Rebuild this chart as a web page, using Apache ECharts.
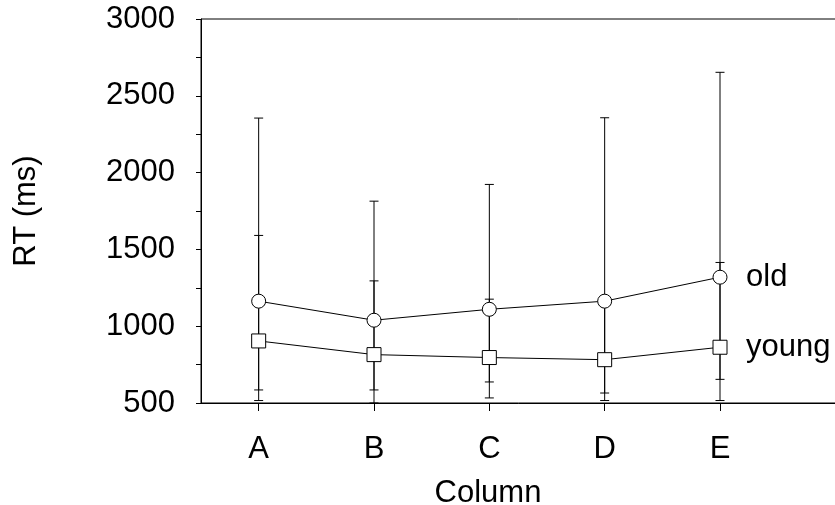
<!DOCTYPE html>
<html>
<head>
<meta charset="utf-8">
<script src="https://cdn.jsdelivr.net/npm/echarts@6/dist/echarts.min.js"></script>
<style>
html,body{margin:0;padding:0;background:#fff;}
#chart{width:835px;height:505px;}
</style>
</head>
<body>
<div id="chart"></div>
<script>
var categories = ['A', 'B', 'C', 'D', 'E'];
var oldMean  = [1163, 1039, 1110, 1163, 1319];
var oldUpper = [2355, 1814, 1923, 2357, 2653];
var oldLower = [516, 500, 533, 516, 516];
var youngMean  = [904, 815, 796, 782, 863];
var youngUpper = [1591, 1295, 1176, 1160, 1415];
var youngLower = [585, 585, 637, 565, 654];
var yTicks = [500, 1000, 1500, 2000, 2500, 3000];

var FONT = '"Liberation Sans", Arial, sans-serif';
var FS = 31;

function errData(lo, hi) {
  return categories.map(function (c, i) { return [i, lo[i], hi[i]]; });
}
function errRender(params, api) {
  var i = api.value(0);
  var top = api.coord([i, api.value(2)]);
  var bot = api.coord([i, api.value(1)]);
  var hw = 4.5;
  var st = { stroke: '#000', lineWidth: 1 };
  return {
    type: 'group',
    children: [
      { type: 'line', shape: { x1: top[0], y1: top[1], x2: bot[0], y2: bot[1] }, style: st },
      { type: 'line', shape: { x1: top[0] - hw, y1: top[1], x2: top[0] + hw, y2: top[1] }, style: st },
      { type: 'line', shape: { x1: bot[0] - hw, y1: bot[1], x2: bot[0] + hw, y2: bot[1] }, style: st }
    ]
  };
}

var chart = echarts.init(document.getElementById('chart'), null, { renderer: 'canvas' });
chart.setOption({
  animation: false,
  backgroundColor: '#fff',
  grid: {
    left: 201, top: 19, height: 384, width: 692,
    containLabel: false,
    outerBoundsMode: 'none',
    show: true, borderColor: '#000', borderWidth: 1, backgroundColor: 'transparent'
  },
  xAxis: {
    type: 'category',
    data: categories.concat(['']),
    boundaryGap: true,
    name: 'Column',
    nameLocation: 'middle',
    nameGap: 75,
    nameTextStyle: { fontFamily: FONT, fontSize: FS, color: '#000', padding: [0, 118, 0, 0] },
    axisLine: { show: true, lineStyle: { color: '#000', width: 1 } },
    axisTick: {
      show: true, alignWithLabel: true, length: 8,
      interval: function (idx) { return idx < categories.length; },
      lineStyle: { color: '#000', width: 1 }
    },
    axisLabel: {
      margin: 31, fontFamily: FONT, fontSize: FS, color: '#000',
      interval: 0
    },
    splitLine: { show: false }
  },
  yAxis: {
    type: 'value',
    min: yTicks[0], max: yTicks[yTicks.length - 1], interval: 250,
    name: 'RT (ms)',
    nameLocation: 'middle',
    nameGap: 159,
    nameRotate: 90,
    nameTextStyle: { fontFamily: FONT, fontSize: FS, color: '#000' },
    axisLine: { show: true, lineStyle: { color: '#000', width: 1 } },
    axisTick: { show: true, length: 5, lineStyle: { color: '#000', width: 1 } },
    axisLabel: {
      margin: 26, fontFamily: FONT, fontSize: FS, color: '#000',
      formatter: function (v) { return yTicks.indexOf(v) >= 0 ? String(v) : ''; }
    },
    splitLine: { show: false }
  },
  series: [
    {
      type: 'custom', name: 'old-err', z: 1,
      renderItem: errRender, data: errData(oldLower, oldUpper),
      encode: { x: 0, y: [1, 2] }, silent: true
    },
    {
      type: 'custom', name: 'young-err', z: 1,
      renderItem: errRender, data: errData(youngLower, youngUpper),
      encode: { x: 0, y: [1, 2] }, silent: true
    },
    {
      type: 'line', name: 'old', z: 3,
      data: oldMean,
      symbol: 'circle', symbolSize: 14,
      itemStyle: { color: '#fff', borderColor: '#000', borderWidth: 1 },
      lineStyle: { color: '#000', width: 1 },
      endLabel: {
        show: true, formatter: '{a}', distance: 26,
        fontFamily: FONT, fontSize: FS, color: '#000'
      }
    },
    {
      type: 'line', name: 'young', z: 3,
      data: youngMean,
      symbol: 'rect', symbolSize: 14,
      itemStyle: { color: '#fff', borderColor: '#000', borderWidth: 1 },
      lineStyle: { color: '#000', width: 1 },
      endLabel: {
        show: true, formatter: '{a}', distance: 26,
        fontFamily: FONT, fontSize: FS, color: '#000'
      }
    }
  ]
});
</script>
</body>
</html>
